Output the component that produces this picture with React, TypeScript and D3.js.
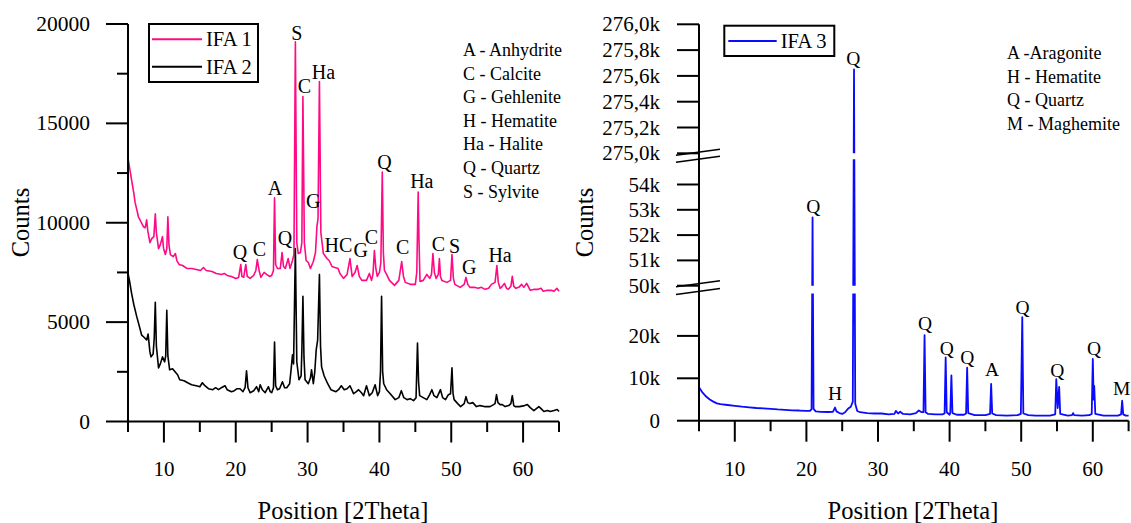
import React from "react";
import * as d3 from "d3";

// ---- data (2Theta, counts) ----
const ifa1: [number, number][] = [
  [5.0, 13250], [5.3, 12600], [5.5, 12150], [5.8, 11500], [6.0, 11000], [6.2, 10700], [6.45, 10300], [6.8, 10050],
  [7.15, 9800], [7.4, 9750], [7.6, 10150], [7.75, 9600], [8.05, 9000], [8.3, 9200], [8.6, 9300], [8.8, 10450],
  [8.95, 9500], [9.25, 8700], [9.5, 8900], [9.8, 9300], [9.95, 8700], [10.2, 8400], [10.4, 8700], [10.55, 10300],
  [10.7, 8900], [10.9, 8400], [11.3, 8300], [11.6, 8450], [11.8, 8100], [12.1, 7900], [12.6, 7850], [13.2, 7700],
  [13.9, 7700], [14.5, 7650], [15.1, 7600], [15.5, 7750], [15.9, 7600], [16.7, 7550], [17.3, 7450], [18.0, 7400],
  [18.4, 7450], [18.8, 7350], [19.4, 7300], [20.0, 7200], [20.4, 7250], [20.7, 7900], [20.85, 7300], [21.1, 7250],
  [21.4, 7900], [21.6, 7300], [22.0, 7200], [22.5, 7350], [22.8, 7600], [23.0, 8150], [23.25, 7600], [23.5, 7250],
  [23.95, 7500], [24.3, 7400], [24.7, 7300], [25.0, 7350], [25.25, 7600], [25.4, 11250], [25.55, 7900], [25.8, 7700],
  [26.2, 7700], [26.45, 8500], [26.65, 7800], [26.9, 7700], [27.3, 8200], [27.55, 7700], [27.9, 8100], [28.1, 8400],
  [28.3, 19100], [28.5, 9000], [28.7, 8450], [29.0, 8500], [29.2, 9000], [29.35, 16350], [29.55, 9000], [29.8, 8100],
  [30.1, 8000], [30.4, 7700], [30.8, 8050], [31.1, 8500], [31.3, 9800], [31.45, 10200], [31.65, 17100], [31.85, 9500],
  [32.2, 8450], [32.5, 8300], [32.7, 8200], [33.0, 8100], [33.4, 7800], [33.8, 7750], [34.25, 7700], [34.5, 7450],
  [35.0, 7200], [35.5, 7400], [35.9, 8200], [36.2, 7300], [36.6, 7500], [36.9, 7850], [37.2, 7300], [37.55, 7100],
  [38.2, 7100], [38.6, 7450], [38.9, 7100], [39.1, 7400], [39.3, 8600], [39.5, 7700], [39.7, 7300], [40.0, 7500],
  [40.2, 8000], [40.4, 12550], [40.55, 8500], [40.7, 7600], [41.0, 7400], [41.4, 7100], [42.1, 6850], [42.7, 7100],
  [43.1, 8050], [43.35, 7300], [43.6, 7000], [44.3, 6900], [45.0, 6900], [45.2, 7500], [45.4, 11550], [45.5, 9300],
  [45.65, 7050], [46.1, 7100], [46.6, 7400], [47.0, 7200], [47.25, 7400], [47.45, 8450], [47.65, 7500], [47.9, 7200],
  [48.2, 7400], [48.35, 8200], [48.5, 7300], [48.7, 7100], [49.4, 7000], [49.9, 7100], [50.1, 8400], [50.3, 7200],
  [50.5, 6900], [51.25, 6750], [51.8, 6900], [52.05, 7250], [52.3, 6900], [52.6, 6750], [53.2, 6750], [53.75, 6700],
  [54.2, 6750], [54.7, 6650], [55.2, 6700], [55.6, 6900], [56.1, 7000], [56.35, 7850], [56.55, 7000], [56.8, 6700],
  [57.1, 6800], [57.4, 6950], [57.7, 6700], [57.95, 6650], [58.3, 6800], [58.5, 7300], [58.7, 6800], [59.0, 6700],
  [59.4, 6750], [59.8, 6900], [60.1, 6750], [60.5, 6950], [61.0, 6600], [61.6, 6650], [62.1, 6650], [62.5, 6700],
  [62.8, 6550], [63.4, 6600], [63.9, 6600], [64.3, 6550], [64.7, 6700], [65.0, 6550],
];

const ifa2: [number, number][] = [
  [5.0, 7450], [5.2, 7100], [5.5, 6450], [5.8, 5900], [6.2, 5300], [6.5, 4900], [6.9, 4350], [7.2, 4250],
  [7.6, 4100], [7.8, 4400], [8.05, 3500], [8.2, 3250], [8.5, 3400], [8.65, 4200], [8.8, 6000], [8.95, 3800],
  [9.25, 2700], [9.5, 2900], [9.8, 3250], [10.1, 3000], [10.25, 3300], [10.4, 5600], [10.55, 3300], [10.8, 2600],
  [11.2, 2650], [11.55, 2500], [11.9, 2350], [12.2, 2100], [12.8, 2050], [13.3, 1950], [13.85, 1850], [14.5, 1800],
  [15.0, 1750], [15.35, 1950], [15.7, 1800], [16.2, 1650], [16.8, 1600], [17.2, 1700], [17.6, 1600], [18.0, 1700],
  [18.5, 1800], [18.8, 1600], [19.4, 1500], [19.8, 1550], [20.2, 1650], [20.6, 1650], [21.0, 1500], [21.3, 1700],
  [21.5, 2550], [21.7, 1700], [22.0, 1450], [22.5, 1550], [22.9, 1750], [23.2, 1500], [23.4, 1850], [23.7, 1600],
  [24.1, 1450], [24.55, 1750], [24.8, 1500], [25.0, 1450], [25.25, 1700], [25.4, 4000], [25.55, 1800], [25.8, 1600],
  [26.1, 1650], [26.5, 2000], [26.8, 1700], [27.1, 1700], [27.5, 1900], [27.7, 2600], [27.9, 3350], [28.05, 2900],
  [28.3, 8700], [28.5, 3000], [28.8, 2100], [29.1, 2300], [29.2, 3500], [29.35, 6300], [29.5, 3200], [29.65, 2100],
  [30.1, 1900], [30.4, 2200], [30.55, 2600], [30.8, 1900], [31.0, 2500], [31.2, 3600], [31.4, 4100], [31.65, 7400],
  [31.8, 3800], [31.95, 2750], [32.3, 2300], [32.8, 1900], [33.25, 1600], [33.95, 1500], [34.3, 1600], [34.7, 1800],
  [35.1, 1600], [35.5, 1650], [35.9, 1800], [36.4, 1400], [36.8, 1500], [37.1, 1600], [37.5, 1450], [37.8, 1300],
  [38.2, 1800], [38.6, 1300], [39.0, 1450], [39.4, 1850], [39.75, 1300], [40.0, 1500], [40.15, 2500], [40.3, 6300],
  [40.45, 2500], [40.6, 1900], [41.0, 1600], [41.5, 1400], [42.2, 1100], [42.7, 1200], [43.05, 1550], [43.4, 1200],
  [43.85, 1100], [44.3, 1150], [44.75, 1050], [45.1, 1200], [45.3, 3950], [45.45, 2000], [45.6, 1300], [46.1, 1200],
  [46.6, 1100], [47.0, 1350], [47.3, 1600], [47.6, 1300], [48.0, 1200], [48.5, 1600], [48.8, 1200], [49.2, 1100],
  [49.6, 1350], [49.9, 1400], [50.1, 2700], [50.25, 1400], [50.4, 1100], [50.9, 900], [51.3, 750], [51.8, 900],
  [52.05, 1250], [52.3, 950], [52.6, 900], [53.0, 950], [53.5, 750], [54.0, 800], [54.6, 750], [55.4, 750],
  [55.9, 850], [56.1, 900], [56.3, 1350], [56.5, 950], [56.8, 850], [57.1, 850], [57.5, 750], [58.0, 800],
  [58.3, 900], [58.5, 1300], [58.7, 800], [58.9, 750], [59.5, 750], [60.2, 800], [60.6, 850], [61.0, 700],
  [61.5, 550], [62.2, 750], [62.5, 650], [62.9, 500], [63.4, 550], [63.8, 500], [64.3, 550], [64.75, 600], [65.0, 500],
];

const ifa3: [number, number][] = [
  [5.0, 7900], [5.5, 6600], [6.0, 5700], [6.5, 5000], [7.0, 4500], [7.5, 4100], [8.0, 3900], [9.0, 3700],
  [10.0, 3500], [11.0, 3300], [12.0, 3150], [13.0, 3000], [14.0, 2900], [15.0, 2800], [16.0, 2650], [17.0, 2550],
  [18.0, 2450], [19.0, 2400], [20.0, 2300], [20.5, 2350], [20.72, 2700], [20.86, 52700], [21.0, 2800], [21.3, 2200],
  [22.0, 2100], [23.0, 2050], [23.7, 2100], [24.0, 3100], [24.2, 2200], [24.6, 1800], [25.0, 1600], [25.4, 2000],
  [25.8, 2800], [26.2, 3300], [26.48, 4500], [26.65, 275650], [26.82, 4000], [27.1, 2300], [27.5, 2000], [28.5, 1800],
  [29.5, 1700], [30.5, 1700], [31.5, 1500], [32.3, 1600], [32.5, 2300], [32.8, 1700], [33.1, 2100], [33.5, 1600],
  [34.5, 1500], [35.3, 1800], [35.7, 2400], [36.1, 2000], [36.35, 2000], [36.5, 20200], [36.65, 2000], [37.0, 1600],
  [38.0, 1500], [39.0, 1500], [39.3, 1700], [39.45, 14900], [39.6, 2000], [40.0, 1400], [40.1, 2000], [40.25, 10700],
  [40.4, 1800], [41.0, 1400], [42.0, 1400], [42.3, 1700], [42.45, 12500], [42.6, 1800], [43.5, 1300], [45.0, 1300],
  [45.65, 1600], [45.8, 8700], [45.95, 1700], [46.5, 1300], [48.0, 1200], [49.5, 1300], [49.95, 1600], [50.15, 24400],
  [50.3, 1700], [51.0, 1300], [52.0, 1200], [53.0, 1200], [54.0, 1200], [54.75, 1500], [54.9, 9800], [55.1, 3000],
  [55.3, 8000], [55.45, 1600], [56.5, 1200], [57.1, 1300], [57.25, 1800], [57.4, 1300], [58.5, 1200], [59.5, 1300],
  [59.85, 1600], [60.0, 14600], [60.12, 5000], [60.2, 8200], [60.35, 1600], [61.5, 1200], [62.5, 1200], [63.5, 1200],
  [63.95, 1500], [64.1, 4700], [64.25, 1500], [64.6, 1200], [65.0, 1200],
];

// peak labels: [text, 2Theta, counts at label centre]
const leftPeakLabels: [string, number, number][] = [
  ["Q", 20.6, 8550], ["C", 23.3, 8680], ["A", 25.47, 11770], ["Q", 26.87, 9220], ["S", 28.5, 19540],
  ["C", 29.55, 16880], ["G", 30.8, 11100], ["Ha", 32.2, 17600], ["HC", 34.3, 8880], ["G", 37.4, 8630],
  ["C", 38.9, 9300], ["Q", 40.7, 13040], ["C", 43.25, 8770], ["Ha", 45.9, 12100], ["C", 48.2, 8920],
  ["S", 50.45, 8830], ["G", 52.5, 7790], ["Ha", 56.8, 8380],
];
const rightPeakLabels: [string, number, number][] = [
  ["Q", 20.96, 53120], ["H", 24.0, 6460], ["Q", 26.55, 275736], ["Q", 36.56, 22970], ["Q", 39.6, 17075],
  ["Q", 42.47, 14950], ["A", 45.92, 12120], ["Q", 50.2, 26750], ["Q", 55.04, 11800], ["Q", 60.17, 17075],
  ["M", 64.03, 7640],
];

const leftPhases = ["A - Anhydrite", "C - Calcite", "G - Gehlenite", "H - Hematite", "Ha - Halite", "Q - Quartz", "S - Sylvite"];
const rightPhases = ["A -Aragonite", "H - Hematite", "Q - Quartz", "M - Maghemite"];

const xTicks = [10, 20, 30, 40, 50, 60];
const xMinorTicks = [5, 15, 25, 35, 45, 55, 65];
const leftYTicks = [0, 5000, 10000, 15000, 20000];
const leftYMinorTicks = [2500, 7500, 12500, 17500];
const rightYTicks = [0, 10000, 20000, 50000, 51000, 52000, 53000, 54000, 275000, 275200, 275400, 275600, 275800, 276000];
const rightYTickLabels = ["0", "10k", "20k", "50k", "51k", "52k", "53k", "54k", "275,0k", "275,2k", "275,4k", "275,6k", "275,8k", "276,0k"];
// broken axis segments of IFA 3
const rightSegments: [number, number][] = [[0, 30000], [50000, 55000], [275000, 276000]];

const PINK = "#ff0a84";
const BLUE = "#0a0aff";
const FONT = "'Liberation Serif', 'Times New Roman', serif";

const App = () => {
  const xL = d3.scaleLinear().domain([5, 65]).range([128, 559]);
  const yL = d3.scaleLinear().domain([0, 20000]).range([421.5, 24]);
  const xR = d3.scaleLinear().domain([5, 65]).range([699, 1128.6]);
  const yR = d3.scaleLinear()
    .domain(rightSegments.flat())
    .range([420.7, 293.5, 285.7, 159.2, 153.3, 24.3]);

  const lineL = d3.line<[number, number]>().x(d => xL(d[0])).y(d => yL(d[1]));
  const lineR = d3.line<[number, number]>().x(d => xR(d[0])).y(d => yR(d[1]));

  const axisY0L = yL(0);
  const axisY0R = yR(0);

  const xAxis = (x: d3.ScaleLinear<number, number>, y0: number) => (
    <g>
      <line x1={x(5)} x2={x(65)} y1={y0} y2={y0} stroke="#000" strokeWidth={2} />
      {xTicks.map(t => (
        <g key={"M" + t}>
          <line x1={x(t)} x2={x(t)} y1={y0} y2={y0 + 21} stroke="#000" strokeWidth={2} />
          <text x={x(t)} y={475.5} textAnchor="middle" fontSize={21}>{t}</text>
        </g>
      ))}
      {xMinorTicks.map(t => (
        <line key={"m" + t} x1={x(t)} x2={x(t)} y1={y0} y2={y0 + 10.5} stroke="#000" strokeWidth={2} />
      ))}
    </g>
  );

  return (
    <svg width={1131} height={523} style={{ position: "absolute", left: 0, top: 0, background: "#fff" }} fontFamily={FONT}>
      <defs>
        {rightSegments.map((s, i) => (
          <clipPath id={"seg" + i} key={i}>
            <rect x={xR(5)} y={yR(s[1])} width={440} height={yR(s[0]) - yR(s[1]) + (i === 0 ? 10 : 0)} />
          </clipPath>
        ))}
      </defs>

      {/* ---------- left panel ---------- */}
      <path d={lineL(ifa1) || ""} fill="none" stroke={PINK} strokeWidth={1.6} strokeLinejoin="round" />
      <path d={lineL(ifa2) || ""} fill="none" stroke="#000" strokeWidth={1.6} strokeLinejoin="round" />

      <line x1={xL(5)} x2={xL(5)} y1={yL(20000)} y2={axisY0L} stroke="#000" strokeWidth={2} />
      {leftYTicks.map(t => (
        <g key={t}>
          <line x1={xL(5) - 22} x2={xL(5)} y1={yL(t)} y2={yL(t)} stroke="#000" strokeWidth={2} />
          <text x={90} y={yL(t)} textAnchor="end" dominantBaseline="central" fontSize={21.5}>{t}</text>
        </g>
      ))}
      {leftYMinorTicks.map(t => (
        <line key={t} x1={xL(5) - 11} x2={xL(5)} y1={yL(t)} y2={yL(t)} stroke="#000" strokeWidth={2} />
      ))}
      {xAxis(xL, axisY0L)}

      <text transform="translate(28.5,222.5) rotate(-90)" textAnchor="middle" fontSize={24.5}>Counts</text>
      <text x={343} y={519} textAnchor="middle" fontSize={24.5}>Position [2Theta]</text>

      {leftPeakLabels.map((p, i) => (
        <text key={i} x={xL(p[1])} y={yL(p[2])} textAnchor="middle" dominantBaseline="central" fontSize={20}>{p[0]}</text>
      ))}

      <rect x={149} y={24} width={109} height={58} fill="#fff" stroke="#000" strokeWidth={2} />
      <line x1={152} x2={202} y1={39.3} y2={39.3} stroke={PINK} strokeWidth={2} />
      <text x={206} y={39.3} dominantBaseline="central" fontSize={20.5}>IFA 1</text>
      <line x1={152} x2={202} y1={66.7} y2={66.7} stroke="#000" strokeWidth={2} />
      <text x={206} y={66.7} dominantBaseline="central" fontSize={20.5}>IFA 2</text>

      {leftPhases.map((s, i) => (
        <text key={s} x={463} y={50 + i * 23.6} dominantBaseline="central" fontSize={18}>{s}</text>
      ))}

      {/* ---------- right panel ---------- */}
      {rightSegments.map((s, i) => (
        <path key={i} d={lineR(ifa3) || ""} clipPath={`url(#seg${i})`} fill="none" stroke={BLUE}
          strokeWidth={1.8} strokeLinejoin="round" />
      ))}

      <line x1={xR(5)} x2={xR(5)} y1={yR(276000)} y2={axisY0R} stroke="#000" strokeWidth={2} />
      {rightYTicks.map((t, i) => (
        <g key={t}>
          <line x1={xR(5) - 22} x2={xR(5)} y1={yR(t)} y2={yR(t)} stroke="#000" strokeWidth={2} />
          <text x={660} y={yR(t)} textAnchor="end" dominantBaseline="central" fontSize={21}>{rightYTickLabels[i]}</text>
        </g>
      ))}
      {/* axis break marks */}
      {[[yR(275000) - 1, yR(55000)], [yR(50000) - 2, yR(30000) - 2]].map((pair, i) => (
        <g key={i}>
          {pair.map((yy, j) => (
            <line key={j} x1={xR(5) - 23} x2={xR(5) + 21} y1={yy + 3} y2={yy - 3} stroke="#000" strokeWidth={1.6} />
          ))}
        </g>
      ))}
      {xAxis(xR, axisY0R)}

      <text transform="translate(593,222.5) rotate(-90)" textAnchor="middle" fontSize={24.5}>Counts</text>
      <text x={913} y={519} textAnchor="middle" fontSize={24.5}>Position [2Theta]</text>

      {rightPeakLabels.map((p, i) => (
        <text key={i} x={xR(p[1])} y={yR(p[2])} textAnchor="middle" dominantBaseline="central" fontSize={19.5}>{p[0]}</text>
      ))}

      <rect x={724.3} y={25.7} width={110} height={30.3} fill="#fff" stroke="#000" strokeWidth={2} />
      <line x1={728.3} x2={776.7} y1={41} y2={41} stroke={BLUE} strokeWidth={2} />
      <text x={780.7} y={41} dominantBaseline="central" fontSize={20.5}>IFA 3</text>

      {rightPhases.map((s, i) => (
        <text key={s} x={1007} y={53.3 + i * 23.5} dominantBaseline="central" fontSize={18}>{s}</text>
      ))}
    </svg>
  );
};

export default App;
